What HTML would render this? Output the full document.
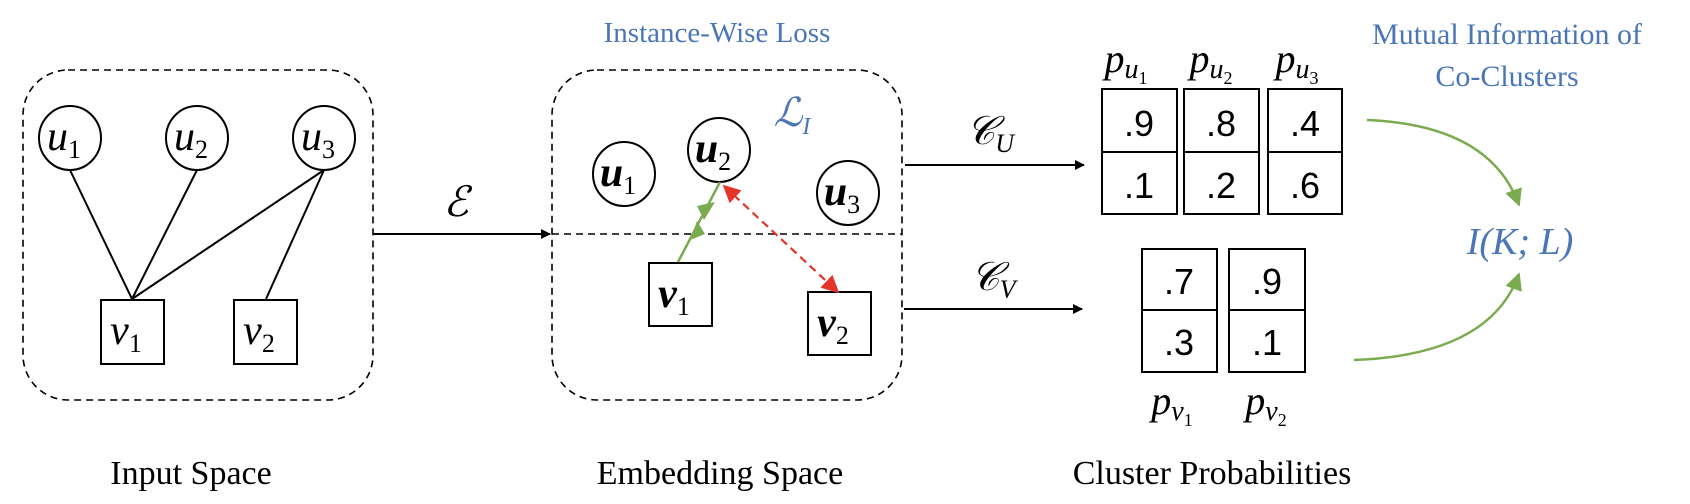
<!DOCTYPE html>
<html><head><meta charset="utf-8"><style>
html,body{margin:0;padding:0;background:#fff;}
svg{display:block;}
.lbl{font-family:"Liberation Serif",serif;}
.m{font-family:"Liberation Serif",serif;font-style:italic;}
.n{font-family:"Liberation Sans",sans-serif;font-size:36px;}
.blue{fill:#4a76b8;}
</style></head><body>
<svg width="1690" height="504" viewBox="0 0 1690 504" xmlns="http://www.w3.org/2000/svg">
<defs>
<marker id="ab" viewBox="0 0 10 10" refX="9" refY="5" markerWidth="10" markerHeight="10" markerUnits="userSpaceOnUse" orient="auto"><path d="M0,0L10,5L0,10z" fill="#000"/></marker>
<marker id="ar" viewBox="0 0 10 10" refX="9" refY="5" markerWidth="8" markerHeight="8" orient="auto-start-reverse"><path d="M0,0L10,5L0,10z" fill="#e5352b"/></marker>
<marker id="ag" viewBox="0 0 10 10" refX="9" refY="5" markerWidth="7" markerHeight="7" orient="auto"><path d="M0,0L10,5L0,10z" fill="#7aab4f"/></marker>
</defs>
<style>#ab path{transform:scale(1)}</style>
<!-- Input space -->
<rect x="23" y="70" width="350" height="330" rx="45" fill="none" stroke="#000" stroke-width="1.6" stroke-dasharray="7,5"/>
<g stroke="#000" stroke-width="2" fill="none">
<line x1="70" y1="170" x2="132" y2="299"/>
<line x1="197" y1="170" x2="132" y2="299"/>
<line x1="324" y1="170" x2="132" y2="299"/>
<line x1="324" y1="170" x2="266" y2="299"/>
<ellipse cx="70" cy="138" rx="31" ry="32" fill="#fff"/>
<ellipse cx="197" cy="138" rx="31" ry="32" fill="#fff"/>
<ellipse cx="324" cy="138" rx="31" ry="32" fill="#fff"/>
<rect x="101" y="300" width="63" height="64" fill="#fff"/>
<rect x="234" y="300" width="63" height="64" fill="#fff"/>
</g>
<g class="m" font-size="42" text-anchor="middle">
<text x="64" y="150">u<tspan font-style="normal" font-size="26" dy="8">1</tspan></text>
<text x="191" y="150">u<tspan font-style="normal" font-size="26" dy="8">2</tspan></text>
<text x="318" y="150">u<tspan font-style="normal" font-size="26" dy="8">3</tspan></text>
<text x="126" y="344">v<tspan font-style="normal" font-size="26" dy="8">1</tspan></text>
<text x="259" y="344">v<tspan font-style="normal" font-size="26" dy="8">2</tspan></text>
</g>
<!-- E arrow -->
<line x1="373" y1="234" x2="550" y2="234" stroke="#000" stroke-width="2" marker-end="url(#ab)"/>
<text class="m" x="456" y="216" font-size="42" text-anchor="middle">ℰ</text>
<!-- Embedding -->
<text class="lbl blue" x="717" y="42" font-size="29" text-anchor="middle">Instance-Wise Loss</text>
<rect x="552" y="70" width="350" height="330" rx="45" fill="none" stroke="#000" stroke-width="1.6" stroke-dasharray="7,5"/>
<line x1="552" y1="234" x2="902" y2="234" stroke="#000" stroke-width="1.6" stroke-dasharray="7,5"/>
<text class="m blue" x="792" y="126" font-size="40" text-anchor="middle">ℒ<tspan font-size="24" dy="8">I</tspan></text>
<g stroke="#000" stroke-width="2" fill="#fff">
<ellipse cx="624" cy="174" rx="31" ry="32"/>
<ellipse cx="719" cy="150" rx="31" ry="32"/>
<ellipse cx="848" cy="193" rx="31" ry="32"/>
<rect x="649" y="263" width="63" height="63"/>
<rect x="808" y="292" width="63" height="63"/>
</g>
<g class="m" font-size="42" font-weight="bold" text-anchor="middle">
<text x="618" y="186">u<tspan font-weight="normal" font-style="normal" font-size="26" dy="8">1</tspan></text>
<text x="713" y="162">u<tspan font-weight="normal" font-style="normal" font-size="26" dy="8">2</tspan></text>
<text x="842" y="205">u<tspan font-weight="normal" font-style="normal" font-size="26" dy="8">3</tspan></text>
<text x="674" y="307">v<tspan font-weight="normal" font-style="normal" font-size="26" dy="8">1</tspan></text>
<text x="833" y="336">v<tspan font-weight="normal" font-style="normal" font-size="26" dy="8">2</tspan></text>
</g>
<line x1="678" y1="262" x2="720" y2="182" stroke="#7aab4f" stroke-width="2.5"/>
<path d="M697,206 L715,202 L704,220 z" fill="#7aab4f"/>
<path d="M690,240 L705,234 L697,221 z" fill="#7aab4f"/>
<line x1="724" y1="186" x2="838" y2="292" stroke="#e5352b" stroke-width="2.2" stroke-dasharray="8,5" marker-start="url(#ar)" marker-end="url(#ar)"/>
<!-- C arrows -->
<line x1="905" y1="165" x2="1084" y2="165" stroke="#000" stroke-width="2" marker-end="url(#ab)"/>
<line x1="904" y1="309" x2="1082" y2="309" stroke="#000" stroke-width="2" marker-end="url(#ab)"/>
<text class="m" x="990" y="144" font-size="40" text-anchor="middle">𝒞<tspan font-size="26" dy="8">U</tspan></text>
<text class="m" x="993" y="290" font-size="40" text-anchor="middle">𝒞<tspan font-size="26" dy="8">V</tspan></text>
<!-- Tables -->
<g stroke="#000" stroke-width="2" fill="none">
<rect x="1102" y="89" width="75" height="125"/><line x1="1102" y1="152" x2="1177" y2="152"/>
<rect x="1184" y="89" width="75" height="125"/><line x1="1184" y1="152" x2="1259" y2="152"/>
<rect x="1268" y="89" width="74" height="125"/><line x1="1268" y1="152" x2="1342" y2="152"/>
<rect x="1142" y="249" width="75" height="123"/><line x1="1142" y1="310" x2="1217" y2="310"/>
<rect x="1229" y="249" width="76" height="123"/><line x1="1229" y1="310" x2="1305" y2="310"/>
</g>
<g class="n" text-anchor="middle">
<text x="1139" y="136">.9</text><text x="1221" y="136">.8</text><text x="1305" y="136">.4</text>
<text x="1139" y="198">.1</text><text x="1221" y="198">.2</text><text x="1305" y="198">.6</text>
<text x="1179" y="294">.7</text><text x="1267" y="294">.9</text>
<text x="1179" y="355">.3</text><text x="1267" y="355">.1</text>
</g>
<g class="m" font-size="40" text-anchor="middle">
<text x="1126" y="72">p<tspan font-size="28" dy="6">u</tspan><tspan font-style="normal" font-size="18" dy="6">1</tspan></text>
<text x="1211" y="72">p<tspan font-size="28" dy="6">u</tspan><tspan font-style="normal" font-size="18" dy="6">2</tspan></text>
<text x="1297" y="72">p<tspan font-size="28" dy="6">u</tspan><tspan font-style="normal" font-size="18" dy="6">3</tspan></text>
<text x="1172" y="414">p<tspan font-size="28" dy="6">v</tspan><tspan font-style="normal" font-size="18" dy="6">1</tspan></text>
<text x="1266" y="414">p<tspan font-size="28" dy="6">v</tspan><tspan font-style="normal" font-size="18" dy="6">2</tspan></text>
</g>
<!-- MI -->
<text class="lbl blue" x="1507" y="44" font-size="30" text-anchor="middle">Mutual Information of</text>
<text class="lbl blue" x="1507" y="86" font-size="30" text-anchor="middle">Co-Clusters</text>
<text class="m blue" x="1520" y="254" font-size="38" text-anchor="middle">I(K; L)</text>
<path d="M1367,120 Q1490,125 1519,205" fill="none" stroke="#7aab4f" stroke-width="2.5" marker-end="url(#ag)"/>
<path d="M1354,360 Q1490,355 1519,274" fill="none" stroke="#7aab4f" stroke-width="2.5" marker-end="url(#ag)"/>
<!-- captions -->
<g class="lbl" font-size="34" text-anchor="middle">
<text x="191" y="484">Input Space</text>
<text x="720" y="484">Embedding Space</text>
<text x="1212" y="484">Cluster Probabilities</text>
</g>
</svg>
</body></html>
